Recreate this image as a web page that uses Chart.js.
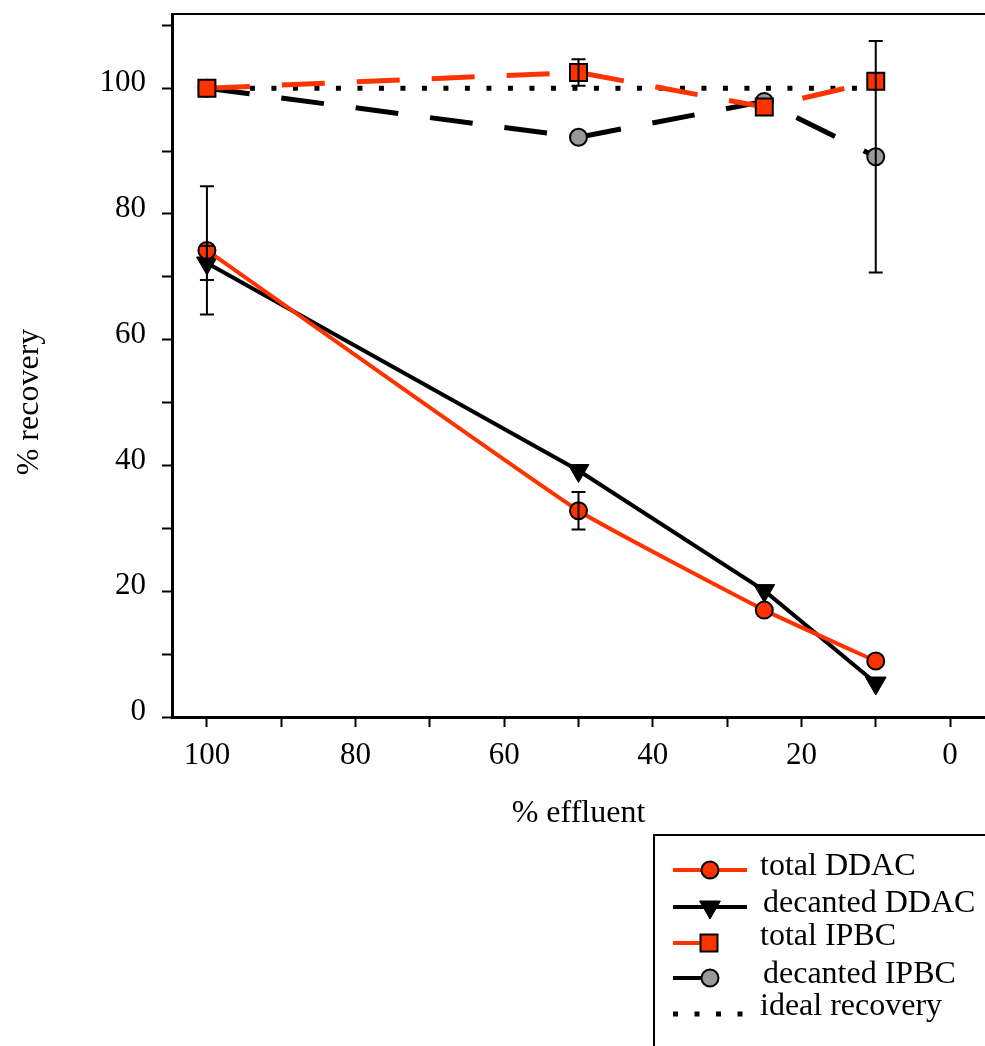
<!DOCTYPE html>
<html>
<head>
<meta charset="utf-8">
<script src="https://cdn.jsdelivr.net/npm/chart.js@4/dist/chart.umd.min.js"></script>
<style>
  body { margin: 0; background: #fff; }
  #wrap { width: 985px; height: 1046px; position: relative; }
</style>
</head>
<body>
<div id="wrap"><canvas id="myChart"></canvas></div>
<script>
// % effluent for each sample
var effluent = [100, 50, 25, 10];

var totalDDAC = [74.2, 32.8, 17.0, 8.9];
var totalDDACErr = [10.2, 3.0, 0, 0];
var decantedDDAC = [72.2, 39.2, 20.1, 5.4];
var decantedDDACErr = [2.7, 0, 0, 0];
var totalIPBC = [100, 102.5, 97.0, 101.1];
var totalIPBCErr = [0, 2.1, 0, 0];
var decantedIPBC = [100, 92.2, 97.9, 89.1];
var decantedIPBCErr = [0, 0, 0, 18.4];

var idealX = [100, 10];
var idealY = [100, 100];

var xLabels = [100, 80, 60, 40, 20, 0];
var yLabels = [0, 20, 40, 60, 80, 100];

var red = '#ff3300';
var grey = '#999999';
var font = "'Liberation Serif', 'Times New Roman', serif";

function pts(xs, ys) {
    return xs.map(function (x, i) { return { x: x, y: ys[i] }; });
}

Chart.defaults.font.family = font;
Chart.defaults.color = '#000';

// error bars, the frame top and the legend box are drawn here
var extras = {
    id: 'extras',
    afterDatasetsDraw: function (chart) {
        var ctx = chart.ctx;
        var xs = chart.scales.x, ys = chart.scales.y;
        ctx.save();
        ctx.strokeStyle = '#000';
        ctx.lineWidth = 2;
        chart.data.datasets.forEach(function (ds) {
            if (!ds.errors) return;
            ds.data.forEach(function (p, i) {
                var e = ds.errors[i];
                if (!e) return;
                var px = xs.getPixelForValue(p.x);
                var top = ys.getPixelForValue(p.y + e);
                var bot = ys.getPixelForValue(p.y - e);
                ctx.beginPath();
                ctx.moveTo(px, top); ctx.lineTo(px, bot);
                ctx.moveTo(px - 7, top); ctx.lineTo(px + 7, top);
                ctx.moveTo(px - 7, bot); ctx.lineTo(px + 7, bot);
                ctx.stroke();
            });
        });
        ctx.restore();
    },
    afterDraw: function (chart) {
        var ctx = chart.ctx;
        var area = chart.chartArea;
        ctx.save();

        // top frame line
        ctx.strokeStyle = '#000';
        ctx.lineWidth = 2;
        ctx.beginPath();
        ctx.moveTo(area.left, area.top);
        ctx.lineTo(chart.width, area.top);
        ctx.stroke();

        // y axis title
        ctx.save();
        ctx.translate(38, 402);
        ctx.rotate(-Math.PI / 2);
        ctx.font = '32px ' + font;
        ctx.fillStyle = '#000';
        ctx.textAlign = 'center';
        ctx.textBaseline = 'alphabetic';
        ctx.fillText('% recovery', 0, 0);
        ctx.restore();

        // legend box
        var bx = 654, by = 835;
        ctx.lineWidth = 2;
        ctx.beginPath();
        ctx.moveTo(bx, chart.height);
        ctx.lineTo(bx, by);
        ctx.lineTo(chart.width, by);
        ctx.stroke();

        var rows = [
            { ds: 0, y: 870, lineEnd: 747, mark: 710, tx: 760, ty: 875 },
            { ds: 1, y: 907, lineEnd: 747, mark: 710, tx: 763, ty: 912 },
            { ds: 2, y: 943, lineEnd: 702, mark: 709, tx: 760, ty: 945 },
            { ds: 3, y: 978, lineEnd: 704, mark: 710, tx: 763, ty: 983 },
            { ds: 4, y: 1014, lineEnd: 745, mark: null, tx: 760, ty: 1015 }
        ];
        ctx.font = '32px ' + font;
        ctx.textAlign = 'left';
        ctx.textBaseline = 'alphabetic';
        rows.forEach(function (r) {
            var ds = chart.data.datasets[r.ds];
            ctx.save();
            ctx.strokeStyle = ds.borderColor;
            ctx.lineWidth = 4;
            if (r.mark === null) {
                ctx.setLineDash(ds.borderDash);
                ctx.lineWidth = ds.borderWidth;
            }
            ctx.beginPath();
            ctx.moveTo(673, r.y);
            ctx.lineTo(r.lineEnd, r.y);
            ctx.stroke();
            ctx.restore();
            if (r.mark !== null) {
                ctx.save();
                ctx.fillStyle = ds.pointBackgroundColor;
                ctx.strokeStyle = '#000';
                ctx.lineWidth = ds.pointBorderWidth;
                Chart.helpers.drawPoint(ctx, {
                    pointStyle: ds.pointStyle,
                    rotation: ds.pointRotation || 0,
                    radius: ds.pointRadius,
                    borderWidth: ds.pointBorderWidth
                }, r.mark, r.y);
                ctx.restore();
            }
            ctx.fillStyle = '#000';
            ctx.fillText(ds.label, r.tx, r.ty);
        });
        ctx.restore();
    }
};

var ctx = document.getElementById('myChart').getContext('2d');
var chart = new Chart(ctx, {
    type: 'line',
    data: {
        datasets: [{
            label: 'total DDAC',
            data: pts(effluent, totalDDAC),
            errors: totalDDACErr,
            borderColor: red,
            borderWidth: 4,
            tension: 0.12,
            pointStyle: 'circle',
            pointRadius: 8.5,
            pointBackgroundColor: red,
            pointBorderColor: '#000',
            pointBorderWidth: 2,
            order: 2
        }, {
            label: 'decanted DDAC',
            data: pts(effluent, decantedDDAC),
            errors: decantedDDACErr,
            borderColor: '#000',
            borderWidth: 4,
            pointStyle: 'triangle',
            pointRotation: 180,
            pointRadius: 12,
            pointBackgroundColor: '#000',
            pointBorderColor: '#000',
            pointBorderWidth: 1,
            order: 3
        }, {
            label: 'total IPBC',
            data: pts(effluent, totalIPBC),
            errors: totalIPBCErr,
            borderColor: red,
            borderWidth: 5,
            borderDash: [43, 32],
            pointStyle: 'rect',
            pointRadius: 12,
            pointBackgroundColor: red,
            pointBorderColor: '#000',
            pointBorderWidth: 2,
            order: 0
        }, {
            label: 'decanted IPBC',
            data: pts(effluent, decantedIPBC),
            errors: decantedIPBCErr,
            borderColor: '#000',
            borderWidth: 5,
            borderDash: [43, 32],
            pointStyle: 'circle',
            pointRadius: 8.5,
            pointBackgroundColor: grey,
            pointBorderColor: '#000',
            pointBorderWidth: 2,
            order: 1
        }, {
            label: 'ideal recovery',
            data: pts(idealX, idealY),
            borderColor: '#000',
            borderWidth: 5,
            borderDash: [5, 16.5],
            borderCapStyle: 'butt',
            pointRadius: 0,
            order: 5
        }]
    },
    options: {
        responsive: true,
        maintainAspectRatio: false,
        animation: false,
        layout: { autoPadding: false, padding: { top: 14, left: 0, right: 0, bottom: 211 } },
        plugins: {
            legend: { display: false },
            tooltip: { enabled: false }
        },
        scales: {
            x: {
                type: 'linear',
                reverse: true,
                min: -4.7,
                max: 104.7,
                afterFit: function (s) { s.height = 118; },
                afterBuildTicks: function (s) {
                    s.ticks = s.ticks.filter(function (t) {
                        return t.value >= 0 && t.value <= 100 && Math.abs(t.value % 10) < 1e-6;
                    });
                },
                ticks: {
                    stepSize: 10,
                    includeBounds: false,
                    autoSkip: false,
                    maxRotation: 0,
                    padding: 10,
                    font: { size: 31 },
                    callback: function (v) { return xLabels.indexOf(v) >= 0 ? v : ''; }
                },
                grid: {
                    drawOnChartArea: false,
                    drawTicks: true,
                    tickLength: 10,
                    tickWidth: 2,
                    tickColor: '#000'
                },
                border: { color: '#000', width: 3 },
                title: {
                    display: true,
                    text: '% effluent',
                    font: { size: 32 },
                    padding: { top: 4, bottom: 2 }
                }
            },
            y: {
                type: 'linear',
                min: 0,
                max: 111.8,
                afterFit: function (s) {
                    s.width = 172;
                    s.paddingTop = 0;
                    s.paddingBottom = 0;
                },
                afterBuildTicks: function (s) {
                    s.ticks = s.ticks.filter(function (t) {
                        return t.value >= 0 && t.value <= 110 && Math.abs(t.value % 10) < 1e-6;
                    });
                },
                ticks: {
                    stepSize: 10,
                    includeBounds: false,
                    autoSkip: false,
                    padding: 16,
                    labelOffset: -5,
                    font: { size: 31, lineHeight: 0.05 },
                    callback: function (v) { return yLabels.indexOf(v) >= 0 ? v : ''; }
                },
                grid: {
                    drawOnChartArea: false,
                    drawTicks: true,
                    tickLength: 10,
                    tickWidth: 2,
                    tickColor: '#000'
                },
                border: { color: '#000', width: 3 }
            }
        }
    },
    plugins: [extras]
});
</script>
</body>
</html>
